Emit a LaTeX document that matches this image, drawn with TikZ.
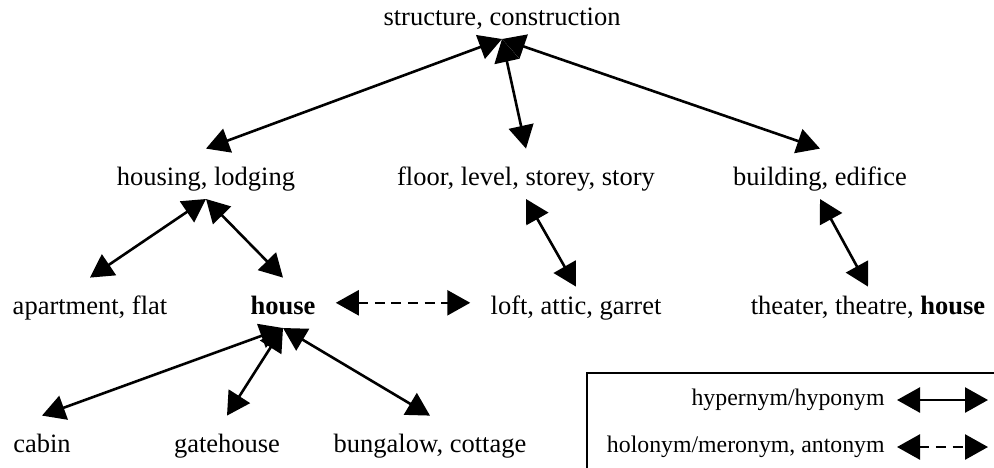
\documentclass[tikz,border=0pt]{standalone}
\usepackage{fontspec}
\setmainfont{Liberation Serif}
\usetikzlibrary{arrows.meta}

\begin{document}
\begin{tikzpicture}[x=0.5pt,y=-0.5pt]
\clip (0,0) rectangle (994,467);
\begin{scope}[every node/.style={anchor=base,font=\fontsize{13.25}{16}\selectfont,
              text height=14.5pt,text depth=3.3pt,inner ysep=3.5pt,inner xsep=10pt}]
    \node (S) at (502,25) {structure, construction};
    \node (H) at (206,185) {housing, lodging};
    \node (F) at (526,185) {floor, level, storey, story};
    \node (B) at (820,185) {building, edifice};
    \node (A) at (90,314) {apartment, flat};
    \node (Hs) at (283,314) {\textbf{house}};
    \node (L) at (576,314) {loft, attic, garret};
    \node (T) at (868,314) {theater, theatre, \textbf{house}};
    \node (C) at (42,452) {cabin};
    \node (G) at (227,452) {gatehouse};
    \node (Bu) at (430,452) {bungalow, cottage};
\end{scope}

% legend
\draw[line width=0.8pt] (587,373) rectangle (1000,480);
\begin{scope}[every node/.style={anchor=base east,font=\fontsize{11.9}{14}\selectfont,inner sep=0pt}]
    \node (K1) at (885,405) {hypernym/hyponym};
    \node (K2) at (885,452) {holonym/meronym, antonym};
\end{scope}
\coordinate (K1a) at (897,400);
\coordinate (K1b) at (988,400);
\coordinate (K2a) at (897,447);
\coordinate (K2b) at (988,447);

\begin{scope}[>={Triangle[length=11.5pt,width=12.5pt]},
              every edge/.style={draw,line width=1.3pt}]
    \path [<->] (S.south) edge (H.north);
    \path [<->] (S.south) edge (F.north);
    \path [<->] (S.south) edge (B.north);
    \path [<->] (H.south) edge (A.north);
    \path [<->] (H.south) edge (Hs.north);
    \path [<->] (F.south) edge ([yshift=-4.5pt]L.north);
    \path [<->] (B.south) edge ([yshift=-4.5pt]T.north);
    \path [<->] (Hs.south) edge (C.north);
    \path [<->] (Hs.south) edge (G.north);
    \path [<->] (Hs.south) edge (Bu.north);
    \path [<->] (Hs.east) edge[dash pattern=on 5pt off 3.3pt] (L.west);
    \path [<->] (K1a) edge (K1b);
    \path [<->] (K2a) edge[dash pattern=on 5pt off 3.3pt] (K2b);
\end{scope}
\end{tikzpicture}
\end{document}
